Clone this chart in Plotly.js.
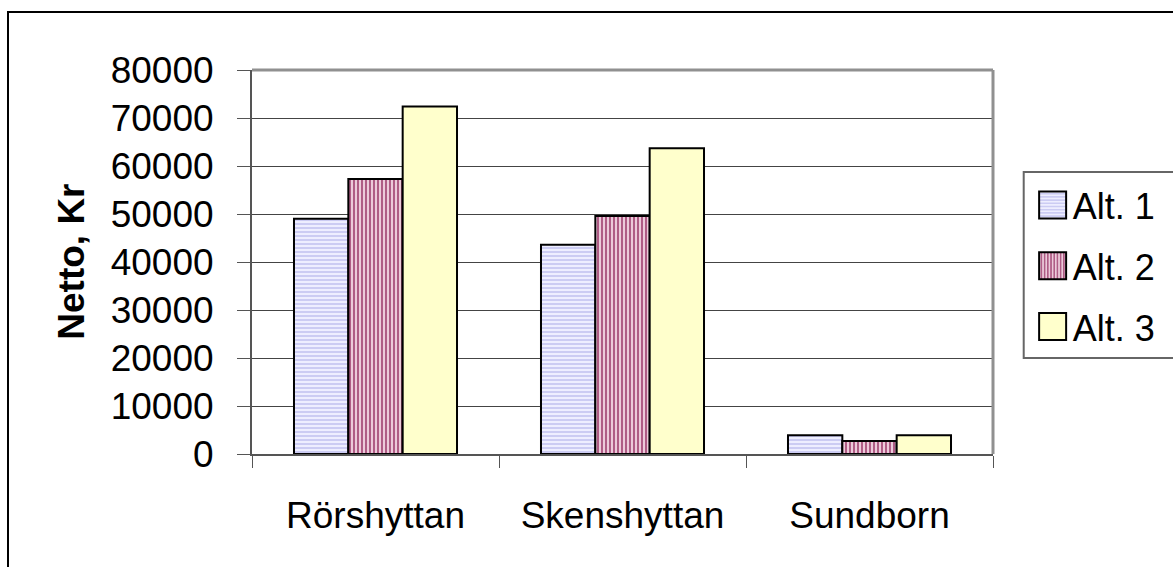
<!DOCTYPE html>
<html>
<head>
<meta charset="utf-8">
<script src="https://cdn.plot.ly/plotly-3.0.1.min.js"></script>
<style>
  html, body { margin: 0; padding: 0; background: #fff; overflow: hidden; }
  #frame { position: absolute; left: 7px; top: 11px; width: 1200px; height: 600px; border: 2px solid #000; box-sizing: border-box; pointer-events: none; z-index: 5; }
  #chart { position: absolute; left: 0; top: 0; width: 1173px; height: 567px; }
</style>
</head>
<body>
<div id="chart"></div>
<div id="frame"></div>
<script>
const categories = ["Rörshyttan", "Skenshyttan", "Sundborn"];
const seriesNames = ["Alt. 1", "Alt. 2", "Alt. 3"];
const alt1 = [49000, 43600, 3900];
const alt2 = [57300, 49600, 2700];
const alt3 = [72400, 63700, 3900];
const yTicks = [0, 10000, 20000, 30000, 40000, 50000, 60000, 70000, 80000];
const yTitle = "Netto, Kr";

const font = "Liberation Sans, Arial, sans-serif";

const traces = [
  {
    type: "bar", name: seriesNames[0], x: categories, y: alt1, legendgroup: "a",
    marker: {
      color: "#e4e4ff",
      line: {color: "#000", width: 2},
      pattern: {shape: "-", fgcolor: "#c4c4f0", bgcolor: "#eeeeff", size: 4, solidity: 0.4}
    }
  },
  {
    type: "bar", name: seriesNames[1], x: categories, y: alt2, legendgroup: "b",
    marker: {
      color: "#cc8aa8",
      line: {color: "#000", width: 2},
      pattern: {shape: "|", fgcolor: "#a8507c", bgcolor: "#eccada", size: 4, solidity: 0.45}
    }
  },
  {
    type: "bar", name: seriesNames[2], x: categories, y: alt3, legendgroup: "c",
    marker: {color: "#ffffcc", line: {color: "#000", width: 2}}
  }
];

const layout = {
  width: 1173, height: 567,
  margin: {l: 252, r: 173, t: 70, b: 113, pad: 0},
  paper_bgcolor: "#fff", plot_bgcolor: "#fff",
  barmode: "group", bargap: 0.34, bargroupgap: 0,
  showlegend: true,
  font: {family: font, color: "#000", size: 37},
  xaxis: {
    type: "category",
    tickson: "boundaries", ticks: "outside", ticklen: 12, tickcolor: "#555", tickwidth: 1,
    showline: true, linecolor: "#555", linewidth: 2,
    showgrid: false, zeroline: false,
    tickfont: {family: font, size: 37, color: "#000"},
    ticklabelstandoff: 28,
    fixedrange: true
  },
  yaxis: {
    range: [0, 80000], tickvals: yTicks, ticktext: yTicks.map(String),
    ticks: "outside", ticklen: 13, tickcolor: "#555", tickwidth: 1,
    showline: true, linecolor: "#555", linewidth: 2,
    showgrid: true, gridcolor: "#444", gridwidth: 1,
    zeroline: false,
    tickfont: {family: font, size: 37, color: "#000"},
    ticklabelstandoff: 16,
    fixedrange: true
  },
  annotations: [
    {
      xref: "paper", yref: "paper", x: (69 - 252) / 748, y: 0.5,
      xanchor: "center", yanchor: "middle", textangle: -90, showarrow: false,
      text: "<b>" + yTitle + "</b>",
      font: {family: font, size: 37, color: "#000"}
    }
  ],
  legend: {
    x: (1040 - 252) / 748, xanchor: "left", y: (454 - 175) / 384, yanchor: "top",
    bgcolor: "rgba(0,0,0,0)", borderwidth: 0,
    font: {family: font, size: 36, color: "#000"},
    itemwidth: 30, tracegroupgap: 11,
    traceorder: "grouped"
  },
  shapes: [
    {type: "line", xref: "paper", yref: "paper", x0: 0, x1: 1, y0: 1, y1: 1, line: {color: "#909090", width: 3}},
    {type: "line", xref: "paper", yref: "paper", x0: 1, x1: 1, y0: 0, y1: 1, line: {color: "#909090", width: 3}},
    {type: "rect", xref: "paper", yref: "paper",
     x0: (1031 - 252) / 748, x1: 1.5, y0: (454 - 358) / 384, y1: (454 - 172) / 384,
     line: {color: "#666", width: 2}, fillcolor: "rgba(0,0,0,0)", layer: "below"}
  ]
};

Plotly.newPlot("chart", traces, layout, {staticPlot: true, displayModeBar: false}).then(function (gd) {
  gd.querySelectorAll(".legend .legendpoints path").forEach(function (p) {
    p.setAttribute("d", "M13.5,13.5H-13.5V-13.5H13.5Z");
  });
});
</script>
</body>
</html>
